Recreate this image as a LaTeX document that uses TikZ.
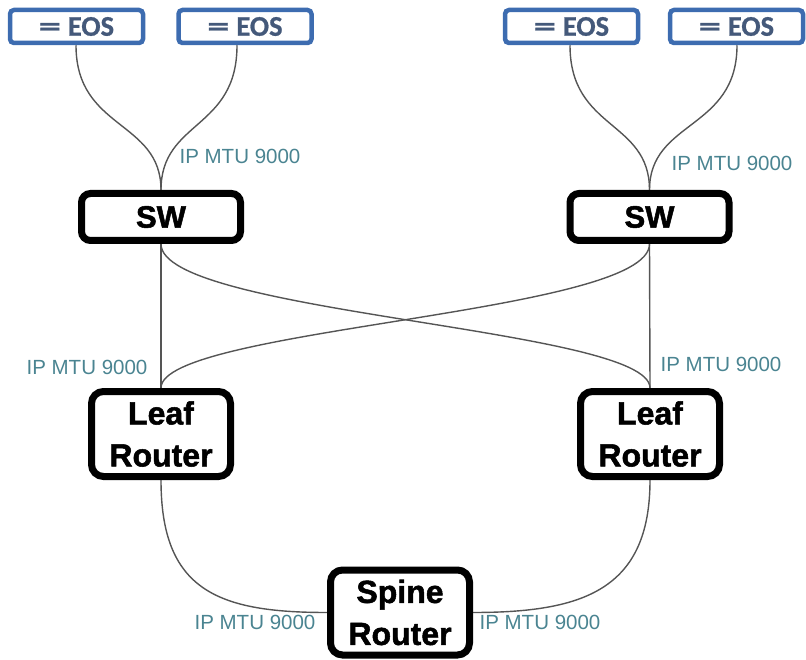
\documentclass[tikz,border=0pt]{standalone}
\usepackage{fontspec}
\usetikzlibrary{backgrounds}
\setmainfont{Liberation Sans}[BoldFeatures={FakeBold=1.6}]
\newfontfamily\eosfont{Carlito}[BoldFeatures={FakeBold=0.8}]
\newcommand{\eoslabel}{\scalebox{1.55}[1]{=}\hspace{7pt}EOS}
\definecolor{eosblue}{HTML}{3D6CB0}
\definecolor{eostext}{HTML}{44597A}
\definecolor{mtu}{HTML}{4A8491}
\definecolor{wire}{HTML}{555555}
\begin{document}
\begin{tikzpicture}[x=1pt,y=-1pt,
  eosbox/.style={draw=eosblue,line width=4.5pt,rounded corners=4pt,fill=white,
    minimum width=133pt,minimum height=33pt,inner sep=0pt,
    font=\eosfont\bfseries\fontsize{28.5}{28.5}\selectfont,text=eostext},
  swbox/.style={draw=black,line width=7pt,rounded corners=9pt,fill=white,
    minimum width=159pt,minimum height=47pt,inner sep=0pt,
    font=\bfseries\fontsize{31}{31}\selectfont},
  rtbox/.style={draw=black,line width=7pt,rounded corners=12pt,fill=white,
    minimum width=139pt,minimum height=85pt,inner sep=0pt,align=center,
    font=\bfseries\fontsize{32}{42}\selectfont},
  wireline/.style={draw=wire,line width=1.4pt},
  mtulbl/.style={text=mtu,font=\fontsize{20.5}{20.5}\selectfont,inner sep=0pt}]
\useasboundingbox (0,0) rectangle (806,660);
% nodes
\node[eosbox] (eos1) at (76.5,26.5) {\eoslabel};
\node[eosbox] (eos2) at (245,26.5) {\eoslabel};
\node[eosbox] (eos3) at (571.5,26.5) {\eoslabel};
\node[eosbox] (eos4) at (736.5,26.5) {\eoslabel};
\node[swbox] (sw1) at (161,217) {SW};
\node[swbox] (sw2) at (649.5,217) {SW};
\node[rtbox] (leaf1) at (161,434) {Leaf\\Router};
\node[rtbox] (leaf2) at (650,434) {Leaf\\Router};
\node[rtbox] (spine) at (400,612.5) {Spine\\Router};
% wires (behind the boxes)
\begin{scope}[on background layer]
\path[wireline] ([xshift=-0.5pt]eos1.south) .. controls +(0,85) and +(0,-70) .. (sw1.north);
\path[wireline] ([xshift=-8pt]eos2.south) .. controls +(0,85) and +(0,-70) .. (sw1.north);
\path[wireline] ([xshift=-1.5pt]eos3.south) .. controls +(0,85) and +(0,-70) .. (sw2.north);
\path[wireline] ([xshift=0.5pt]eos4.south) .. controls +(0,85) and +(0,-70) .. (sw2.north);
\path[wireline] (sw1.south) -- (leaf1.north);
\path[wireline] (sw2.south) -- (leaf2.north);
\path[wireline] (sw1.south) .. controls +(0,70) and +(0,-60) .. (leaf2.north);
\path[wireline] (sw2.south) .. controls +(0,70) and +(0,-60) .. (leaf1.north);
\path[wireline] (leaf1.south) .. controls +(0,110) and +(-110,0) .. (spine.west);
\path[wireline] (leaf2.south) .. controls +(0,110) and +(110,0) .. (spine.east);
\end{scope}
% labels
\node[mtulbl] (m1) at (240,156) {IP MTU 9000};
\node[mtulbl] (m2) at (732,163) {IP MTU 9000};
\node[mtulbl] (m3) at (87,367) {IP MTU 9000};
\node[mtulbl] (m4) at (721,364) {IP MTU 9000};
\node[mtulbl] (m5) at (255,622) {IP MTU 9000};
\node[mtulbl] (m6) at (540,622) {IP MTU 9000};
\end{tikzpicture}
\end{document}
